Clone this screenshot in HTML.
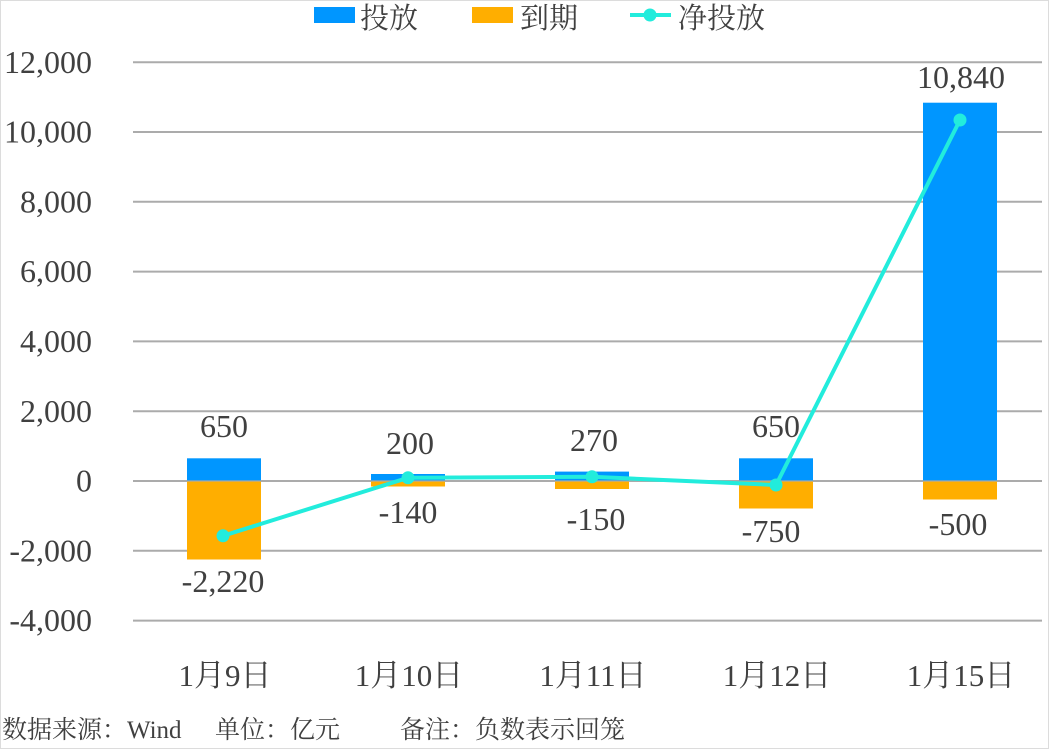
<!DOCTYPE html>
<html>
<head>
<meta charset="utf-8">
<style>
  html, body { margin:0; padding:0; background:#fff; }
  body { width:1049px; height:749px; overflow:hidden; }
  svg { display:block; }
  text { font-family: "Liberation Serif", "Noto Serif CJK SC", serif; fill:#404040; }
</style>
</head>
<body>
<svg width="1049" height="749" viewBox="0 0 1049 749" xmlns="http://www.w3.org/2000/svg">
  <rect x="0.5" y="0.5" width="1048" height="748" fill="#fff" stroke="#dcdcdc" stroke-width="1"/>

  <!-- gridlines -->
  <g stroke="#ababab" stroke-width="2">
    <line x1="133" y1="62.2" x2="1042" y2="62.2"/>
    <line x1="133" y1="132" x2="1042" y2="132"/>
    <line x1="133" y1="201.8" x2="1042" y2="201.8"/>
    <line x1="133" y1="271.6" x2="1042" y2="271.6"/>
    <line x1="133" y1="341.4" x2="1042" y2="341.4"/>
    <line x1="133" y1="411.2" x2="1042" y2="411.2"/>
    <line x1="133" y1="481" x2="1042" y2="481"/>
    <line x1="133" y1="550.8" x2="1042" y2="550.8"/>
    <line x1="133" y1="620.6" x2="1042" y2="620.6"/>
  </g>

  <!-- y labels -->
  <g font-size="32" text-anchor="end">
    <text x="92" y="73">12,000</text>
    <text x="92" y="142.5">10,000</text>
    <text x="92" y="212.5">8,000</text>
    <text x="92" y="282">6,000</text>
    <text x="92" y="352">4,000</text>
    <text x="92" y="422">2,000</text>
    <text x="92" y="491.5">0</text>
    <text x="92" y="561.5">-2,000</text>
    <text x="92" y="631">-4,000</text>
  </g>

  <!-- bars -->
  <g fill="#0096ff">
    <rect x="187" y="458.3" width="74" height="22.7"/>
    <rect x="371" y="474" width="74" height="7"/>
    <rect x="555" y="471.6" width="74" height="9.4"/>
    <rect x="739" y="458.3" width="74" height="22.7"/>
    <rect x="923" y="102.7" width="74" height="378.3"/>
  </g>
  <g fill="#ffae00">
    <rect x="187" y="481" width="74" height="78.5"/>
    <rect x="371" y="481" width="74" height="5.5"/>
    <rect x="555" y="481" width="74" height="8"/>
    <rect x="739" y="481" width="74" height="27.5"/>
    <rect x="923" y="481" width="74" height="18.5"/>
  </g>
  <line x1="133" y1="481" x2="1042" y2="481" stroke="#ababab" stroke-width="2" opacity="0.6"/>

  <!-- net line -->
  <polyline points="223,535.8 408,477.8 592,476.8 776,485 960,120" fill="none" stroke="#22ecdc" stroke-width="4" stroke-linejoin="round"/>
  <g fill="#22ecdc">
    <circle cx="223" cy="535.8" r="6.5"/>
    <circle cx="408" cy="477.8" r="6.5"/>
    <circle cx="592" cy="476.8" r="6.5"/>
    <circle cx="776" cy="485" r="6.5"/>
    <circle cx="960" cy="120" r="6.5"/>
  </g>

  <!-- data labels -->
  <g font-size="32" text-anchor="middle">
    <text x="224" y="437">650</text>
    <text x="410" y="454">200</text>
    <text x="594" y="451">270</text>
    <text x="776" y="437">650</text>
    <text x="961" y="88">10,840</text>
    <text x="223" y="592">-2,220</text>
    <text x="408" y="523">-140</text>
    <text x="596" y="530">-150</text>
    <text x="771" y="542">-750</text>
    <text x="958" y="535">-500</text>
  </g>

  <!-- category labels -->
  <g font-size="31" text-anchor="middle">
    <text x="225" y="686">1月9日</text>
    <text x="409" y="686">1月10日</text>
    <text x="593" y="686">1月11日</text>
    <text x="777" y="686">1月12日</text>
    <text x="961" y="686">1月15日</text>
  </g>

  <!-- legend -->
  <rect x="314" y="7" width="41" height="16" fill="#0096ff"/>
  <text x="360" y="28" font-size="29">投放</text>
  <rect x="472" y="7" width="41" height="16" fill="#ffae00"/>
  <text x="520" y="28" font-size="29">到期</text>
  <line x1="630" y1="15" x2="671" y2="15" stroke="#22ecdc" stroke-width="4"/>
  <circle cx="650" cy="15" r="6.5" fill="#22ecdc"/>
  <text x="678" y="28" font-size="29">净投放</text>

  <!-- footer -->
  <g font-size="25">
    <text x="2" y="738">数据来源：Wind</text>
    <text x="215" y="738">单位：亿元</text>
    <text x="400" y="738">备注：负数表示回笼</text>
  </g>
</svg>
</body>
</html>
